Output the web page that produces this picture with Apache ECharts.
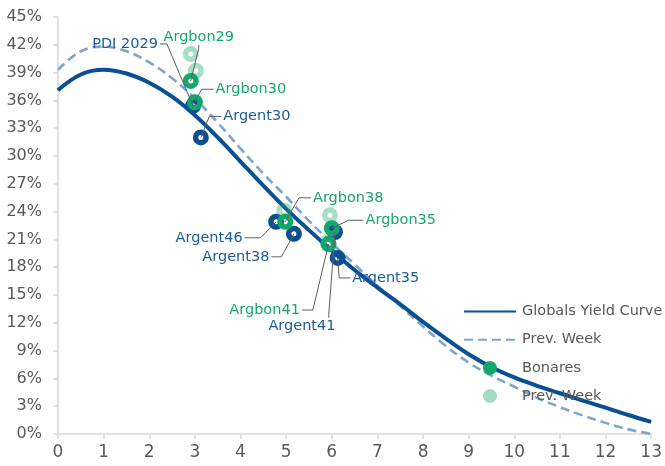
<!DOCTYPE html>
<html>
<head>
<meta charset="utf-8">
<script src="https://cdn.jsdelivr.net/npm/echarts@6/dist/echarts.min.js"></script>
<style>
  html, body { margin: 0; padding: 0; background: #ffffff; }
  #chart { width: 665px; height: 466px; }
</style>
</head>
<body>
<div id="chart"></div>
<script>
// Modified duration (years) sampled along the fitted curves
const curveDuration = [0, 0.5, 1, 1.5, 2, 2.5, 3, 3.5, 4, 4.5, 5, 5.5, 6, 6.5, 7,
                       7.5, 8, 8.5, 9, 9.5, 10, 10.5, 11, 11.5, 12, 12.5, 13];
// Globals yield curve, current week (%)
const globalsCurve = [37.1, 38.8, 39.3, 38.9, 37.9, 36.4, 34.4, 32.0, 29.4, 26.8, 24.3, 22.0, 19.8,
                      17.7, 15.8, 14.0, 12.1, 10.3, 8.6, 7.2, 6.1, 5.2, 4.4, 3.6, 2.85, 2.05, 1.3];
// Globals yield curve, previous week (%)
const prevWeekCurve = [39.3, 41.3, 41.8, 41.3, 40.1, 38.4, 36.2, 33.6, 30.8, 28.1, 25.6, 23.0, 20.6,
                       18.3, 16.0, 13.8, 11.6, 9.5, 7.7, 6.3, 5.1, 3.9, 2.9, 2.0, 1.2, 0.5, 0.0];

// Globals bonds
const globalsNames    = ['PDI 2029', 'Argent30', 'Argent46', 'Argent38', 'Argent41', 'Argent35'];
const globalsDuration = [2.96, 3.13, 4.78, 5.17, 6.07, 6.13];
const globalsYield    = [35.4, 32.0, 22.9, 21.6, 21.8, 19.0];

// Bonares bonds
const bonaresNames    = ['Argbon29', 'Argbon30', 'Argbon38', 'Argbon35', 'Argbon41'];
const bonaresDuration = [2.91, 3.00, 4.98, 6.00, 5.93];
const bonaresYield    = [38.1, 35.8, 22.9, 22.2, 20.5];

// Bonares, previous week
const prevBonaresDuration = [2.91, 3.02, 4.96, 5.96, 5.91];
const prevBonaresYield    = [41.0, 39.2, 24.1, 23.6, 20.7];

// Axis ranges
const xTicks = { min: 0, max: 13, step: 1 };
const yTicks = { min: 0, max: 45, step: 3 };

// Label placement relative to each bond's marker (px), and which side of
// the label its leader line leaves from
const labelPlacement = {
  'PDI 2029': { dx: -68, dy: -62, side: 'right', seg: 7 },
  'Argent30': { dx: 56,  dy: -21, side: 'left',  seg: 12 },
  'Argent46': { dx: -67, dy: 16,  side: 'right', seg: 16 },
  'Argent38': { dx: -58, dy: 23,  side: 'right', seg: 10 },
  'Argent41': { dx: -33, dy: 94,  side: 'top',   seg: 4, at: 0.9 },
  'Argent35': { dx: 48,  dy: 20,  side: 'left',  seg: 11 },
  'Argbon29': { dx: 8,   dy: -44, side: 'bottom', seg: 3, at: 0.5 },
  'Argbon30': { dx: 56,  dy: -13, side: 'left',  seg: 12 },
  'Argbon38': { dx: 63,  dy: -24, side: 'left',  seg: 12 },
  'Argbon35': { dx: 69,  dy: -8,  side: 'left',  seg: 15 },
  'Argbon41': { dx: -64, dy: 66,  side: 'right', seg: 11 }
};

const BLUE = '#0b4f93';
const BLUE_TEXT = '#1b5b9c';
const DASH_BLUE = '#7ea6cd';
const GREEN = '#14a76b';
const LIGHT_GREEN = 'rgba(20,167,107,0.38)';
const GREY_TEXT = '#595959';
const LEADER_GREY = '#5f5f5f';
const AXIS_GREY = '#d9d9d9';
const FONT = '"DejaVu Sans", "Liberation Sans", sans-serif';
const LABEL_SIZE = 14.5;

const zip = (xs, ys) => xs.map((x, i) => [x, ys[i]]);
const named = (names, xs, ys) => names.map((n, i) => ({ name: n, value: [xs[i], ys[i]] }));

function bondLabel(color) {
  return {
    show: true,
    position: 'inside',
    formatter: p => p.name,
    color: color,
    fontFamily: FONT,
    fontSize: LABEL_SIZE
  };
}
function bondLayout(params) {
  const p = labelPlacement[params.text];
  return p ? { dx: p.dx, dy: p.dy } : {};
}

const hiddenSymbol = { color: 'rgba(0,0,0,0)', borderWidth: 0, opacity: 0 };

const chart = echarts.init(document.getElementById('chart'), null, { renderer: 'canvas' });

chart.setOption({
  animation: false,
  backgroundColor: '#ffffff',
  textStyle: { fontFamily: FONT },
  grid: { left: 58, right: 9, top: 17, bottom: 32, containLabel: false },
  legend: {
    orient: 'vertical',
    left: 463,
    top: 304,
    padding: 0,
    itemWidth: 52,
    itemHeight: 14,
    itemGap: 13.2,
    selectedMode: false,
    textStyle: { color: GREY_TEXT, fontSize: 14.5, fontFamily: FONT, padding: [0, 0, 0, 1] },
    formatter: name => (name === 'Bonares Prev. Week' ? 'Prev. Week' : name),
    data: [
      { name: 'Globals Yield Curve', itemStyle: hiddenSymbol },
      { name: 'Prev. Week', itemStyle: hiddenSymbol },
      { name: 'Bonares', icon: 'circle', itemStyle: { color: GREEN, borderWidth: 0 } },
      { name: 'Bonares Prev. Week', icon: 'circle', itemStyle: { color: '#a3dbc5', borderWidth: 0 } }
    ]
  },
  xAxis: {
    type: 'value',
    min: xTicks.min,
    max: xTicks.max,
    interval: xTicks.step,
    axisLine: { show: true, onZero: false, lineStyle: { color: AXIS_GREY, width: 1.5 } },
    axisTick: { show: true, length: 5, lineStyle: { color: AXIS_GREY, width: 1.5 } },
    axisLabel: { color: GREY_TEXT, fontSize: 17, fontFamily: FONT, margin: 10 },
    splitLine: { show: false }
  },
  yAxis: {
    type: 'value',
    min: yTicks.min,
    max: yTicks.max,
    interval: yTicks.step,
    axisLine: { show: true, lineStyle: { color: AXIS_GREY, width: 1.5 } },
    axisTick: { show: true, length: 5, lineStyle: { color: AXIS_GREY, width: 1.5 } },
    axisLabel: { color: GREY_TEXT, fontSize: 16, fontFamily: FONT, margin: 16, formatter: '{value}%' },
    splitLine: { show: false }
  },
  series: [
    {
      name: 'Prev. Week',
      type: 'line',
      data: zip(curveDuration, prevWeekCurve),
      smooth: 0.4,
      showSymbol: false,
      symbol: 'none',
      lineStyle: { color: DASH_BLUE, width: 2.6, type: [9, 5] },
      itemStyle: { color: DASH_BLUE },
      z: 2
    },
    {
      name: 'Globals Yield Curve',
      type: 'line',
      data: zip(curveDuration, globalsCurve),
      smooth: 0.4,
      showSymbol: false,
      symbol: 'none',
      lineStyle: { color: BLUE, width: 4 },
      itemStyle: { color: BLUE },
      z: 3
    },
    {
      name: 'Globals',
      type: 'scatter',
      data: named(globalsNames, globalsDuration, globalsYield),
      symbol: 'circle',
      symbolSize: 10.5,
      itemStyle: { color: 'rgba(255,255,255,0)', borderColor: BLUE, borderWidth: 5.5, opacity: 1 },
      label: bondLabel(BLUE_TEXT),
      labelLayout: bondLayout,
      z: 4
    },
    {
      name: 'Bonares',
      type: 'scatter',
      data: named(bonaresNames, bonaresDuration, bonaresYield),
      symbol: 'circle',
      symbolSize: 10.5,
      itemStyle: { color: 'rgba(255,255,255,0)', borderColor: GREEN, borderWidth: 5.5, opacity: 1 },
      label: bondLabel(GREEN),
      labelLayout: bondLayout,
      z: 5
    },
    {
      name: 'Bonares Prev. Week',
      type: 'scatter',
      data: zip(prevBonaresDuration, prevBonaresYield),
      symbol: 'circle',
      symbolSize: 10.5,
      itemStyle: { color: 'rgba(255,255,255,0)', borderColor: LIGHT_GREEN, borderWidth: 5.5, opacity: 1 },
      z: 6
    }
  ]
});

// Elbow leader lines from each label into its marker's centre
const measureCtx = document.createElement('canvas').getContext('2d');
measureCtx.font = LABEL_SIZE + 'px ' + FONT;

function leader(seriesIndex, name, x, y) {
  const p = labelPlacement[name];
  const c = chart.convertToPixel({ seriesIndex: seriesIndex }, [x, y]);
  const w = measureCtx.measureText(name).width;
  const h = LABEL_SIZE;
  const lx = c[0] + p.dx - w / 2;
  const ly = c[1] + p.dy - h / 2;
  let a, b;
  if (p.side === 'left') {
    a = [lx - 2, ly + h / 2];
    b = [a[0] - p.seg, a[1]];
  } else if (p.side === 'right') {
    a = [lx + w + 2, ly + h / 2];
    b = [a[0] + p.seg, a[1]];
  } else if (p.side === 'top') {
    a = [lx + w * p.at, ly - 1];
    b = [a[0], a[1] - p.seg];
  } else {
    a = [lx + w * p.at, ly + h + 1];
    b = [a[0], a[1] + p.seg];
  }
  return {
    type: 'polyline',
    silent: true,
    z: 100,
    shape: { points: [a, b, c] },
    style: { stroke: LEADER_GREY, lineWidth: 1, fill: null }
  };
}

const leaders = [];
globalsNames.forEach((n, i) => leaders.push(leader(2, n, globalsDuration[i], globalsYield[i])));
bonaresNames.forEach((n, i) => leaders.push(leader(3, n, bonaresDuration[i], bonaresYield[i])));
chart.setOption({ graphic: leaders });
</script>
</body>
</html>
